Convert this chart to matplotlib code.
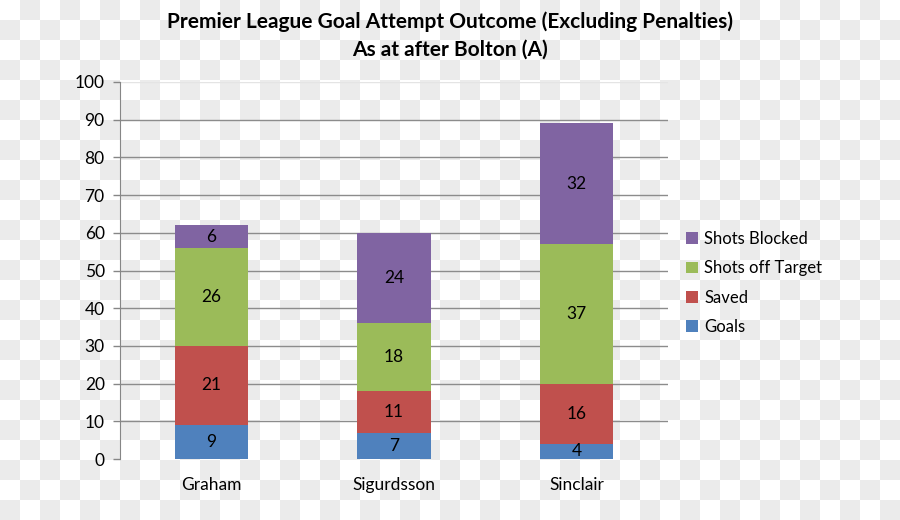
import numpy as np
import matplotlib
matplotlib.use("Agg")
import matplotlib.pyplot as plt
from matplotlib.patches import Patch

players = ["Graham", "Sigurdsson", "Sinclair"]
goals = [9, 7, 4]
saved = [21, 11, 16]
off_target = [26, 18, 37]
blocked = [6, 24, 32]
series_names = ["Goals", "Saved", "Shots off Target", "Shots Blocked"]
colors = ["#4F81BD", "#C0504D", "#9BBB59", "#8064A2"]
y_ticks = list(range(0, 101, 10))

plt.rcParams['font.family'] = ['Lato', 'DejaVu Sans']

W, H = 900, 520
fig = plt.figure(figsize=(W / 100, H / 100), dpi=100)
fig.patch.set_alpha(0)

# checkerboard background (transparency pattern)
yy, xx = np.mgrid[0:H, 0:W]
checker = (((xx // 20) + (yy // 20)) % 2).astype(float)
bg = np.where(checker[..., None] > 0, 0.925, 1.0) * np.ones((H, W, 3))
fig.figimage(bg, xo=0, yo=0, zorder=-10, origin='upper')

ax = fig.add_axes([120 / W, 1 - 459 / H, 548 / W, 377 / H])
ax.set_zorder(1)
ax.set_facecolor('none')

x = np.arange(len(players))
series = [goals, saved, off_target, blocked]
bottom = np.zeros(len(players))
handles = []
for vals, name, col in zip(series, series_names, colors):
    ax.bar(x, vals, width=0.4, bottom=bottom, color=col, zorder=3)
    for xi, b, v in zip(x, bottom, vals):
        ax.text(xi, b + v / 2, str(v), ha='center', va='center',
                fontsize=12.5, color='black', zorder=4)
    bottom = bottom + np.array(vals)
    handles.append(Patch(facecolor=col, label=name))

ax.set_xlim(-0.5, len(players) - 0.5)
ax.set_ylim(0, 100)
ax.set_yticks(y_ticks)
ax.set_yticklabels([str(t) for t in y_ticks], fontsize=12.5)
ax.set_xticks(x)
ax.set_xticklabels(players, fontsize=12.5)
ax.tick_params(axis='x', length=0, pad=13)
ax.tick_params(axis='y', length=5, color='#868686', width=1, pad=6)
for t in y_ticks:
    c = '#e4e4e4' if t == y_ticks[-1] else '#8c8c8c'
    if t > 0:
        ax.axhline(t, color=c, linewidth=1, zorder=1)
for s in ['top', 'right', 'bottom']:
    ax.spines[s].set_visible(False)
ax.spines['left'].set_color('#868686')

fig.text(450 / W, 1 - 22 / H, "Premier League Goal Attempt Outcome (Excluding Penalties)",
         ha='center', va='center', fontsize=15, fontweight='bold', zorder=2)
fig.text(450 / W, 1 - 50 / H, "As at after Bolton (A)",
         ha='center', va='center', fontsize=15, fontweight='bold', zorder=2)

leg = fig.legend(handles=handles[::-1], loc='center left',
                 bbox_to_anchor=(671 / W, 1 - 283 / H), frameon=False,
                 fontsize=12, handlelength=0.7, handleheight=0.7,
                 handletextpad=0.4, labelspacing=0.8)
leg.set_zorder(2)

fig.savefig("out.png", dpi=100)
